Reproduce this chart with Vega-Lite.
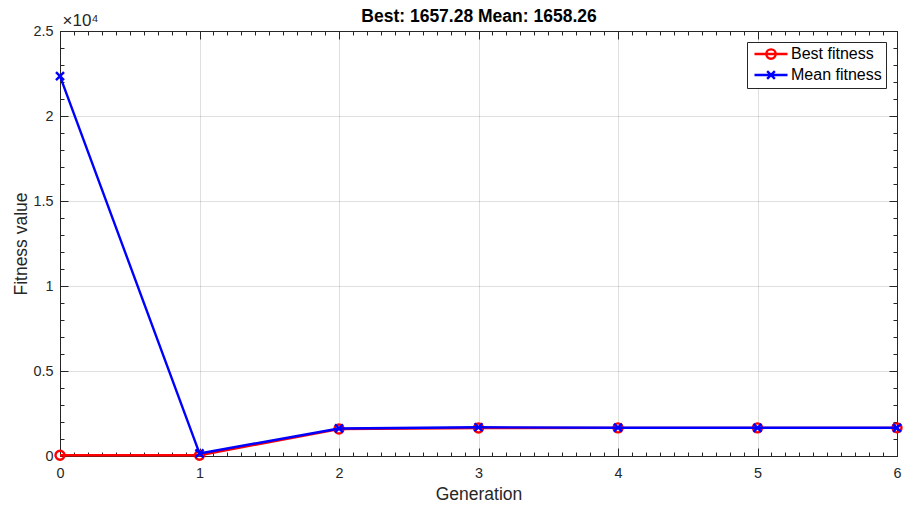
{
  "$schema": "https://vega.github.io/schema/vega-lite/v6.json",
  "width": 837,
  "height": 425,
  "autosize": "none",
  "padding": {"left": 60, "top": 31, "right": 6, "bottom": 53},
  "background": "white",
  "config": {
    "font": "Liberation Sans",
    "view": {"stroke": null},
    "axis": {
      "labelFont": "Liberation Sans",
      "titleFont": "Liberation Sans",
      "labelColor": "#262626",
      "titleColor": "#262626",
      "domainColor": "#262626",
      "domainWidth": 1,
      "tickColor": "#262626",
      "tickWidth": 1,
      "gridColor": "#262626",
      "gridOpacity": 0.15,
      "labelFontSize": 14.4,
      "titleFontSize": 17.5,
      "titleFontWeight": "normal",
      "labelOverlap": false,
      "labelFlush": false
    },
    "legend": {"labelFont": "Liberation Sans"}
  },
  "data": {
    "values": [
      {"generation": 0, "series": "Best fitness", "value": 45},
      {"generation": 1, "series": "Best fitness", "value": 45},
      {"generation": 2, "series": "Best fitness", "value": 1585},
      {"generation": 3, "series": "Best fitness", "value": 1645},
      {"generation": 4, "series": "Best fitness", "value": 1652},
      {"generation": 5, "series": "Best fitness", "value": 1656},
      {"generation": 6, "series": "Best fitness", "value": 1657.28},
      {"generation": 0, "series": "Mean fitness", "value": 22350},
      {"generation": 1, "series": "Mean fitness", "value": 150},
      {"generation": 2, "series": "Mean fitness", "value": 1620},
      {"generation": 3, "series": "Mean fitness", "value": 1690},
      {"generation": 4, "series": "Mean fitness", "value": 1665},
      {"generation": 5, "series": "Mean fitness", "value": 1660},
      {"generation": 6, "series": "Mean fitness", "value": 1658.26}
    ]
  },
  "layer": [
    {
      "transform": [{"filter": "datum.series === 'Best fitness'"}],
      "mark": {"type": "line", "strokeWidth": 2.4, "strokeJoin": "round"},
      "encoding": {
        "x": {
          "field": "generation", "type": "quantitative",
          "scale": {"domain": [0, 6], "nice": false, "zero": false},
          "axis": {
            "orient": "bottom", "values": [0, 1, 2, 3, 4, 5, 6], "format": "d",
            "grid": true, "domain": true, "ticks": true, "tickSize": -8,
            "labelPadding": 18, "labelFlush": false, "title": "Generation", "titlePadding": 6
          }
        },
        "y": {
          "field": "value", "type": "quantitative",
          "scale": {"domain": [0, 25000], "nice": false, "zero": false},
          "axis": {
            "orient": "left", "values": [0, 5000, 10000, 15000, 20000, 25000],
            "labelExpr": "'' + (datum.value / 10000)",
            "grid": true, "domain": true, "ticks": true, "tickSize": -8,
            "labelPadding": 15, "labelFlush": false, "title": "Fitness value", "titlePadding": 2
          }
        },
        "color": {
          "field": "series", "type": "nominal",
          "scale": {"domain": ["Best fitness", "Mean fitness"], "range": ["#ff0000", "#0000ff"]},
          "legend": {
            "title": null,
            "orient": "top-right",
            "offset": 11,
            "padding": 4,
            "strokeColor": "#262626",
            "fillColor": "white",
            "labelFontSize": 16,
            "labelColor": "#000000",
            "symbolSize": 121,
            "symbolOffset": 12,
            "labelOffset": 12,
            "symbolStrokeWidth": 2.4,
            "rowPadding": 2,
            "encode": {
              "symbols": {
                "update": {
                  "shape": {"signal": "datum.value === 'Best fitness' ? 'M-3,0L3,0M0.85,0A0.85,0.85,0,1,1,-0.85,0A0.85,0.85,0,1,1,0.85,0' : 'M-3,0L3,0M-0.7,-0.7L0.7,0.7M-0.7,0.7L0.7,-0.7'"},
                  "fill": {"value": "transparent"},
                  "strokeWidth": {"value": 2.4}
                }
              }
            }
          }
        }
      }
    },
    {
      "transform": [{"filter": "datum.series === 'Best fitness'"}],
      "mark": {"type": "point", "shape": "circle", "filled": false, "stroke": "#ff0000", "strokeWidth": 2.4, "size": 81, "opacity": 1},
      "encoding": {
        "x": {
          "field": "generation", "type": "quantitative",
          "axis": {
            "orient": "bottom",
            "values": [0,0.1,0.2,0.3,0.4,0.5,0.6,0.7,0.8,0.9,1,1.1,1.2,1.3,1.4,1.5,1.6,1.7,1.8,1.9,2,2.1,2.2,2.3,2.4,2.5,2.6,2.7,2.8,2.9,3,3.1,3.2,3.3,3.4,3.5,3.6,3.7,3.8,3.9,4,4.1,4.2,4.3,4.4,4.5,4.6,4.7,4.8,4.9,5,5.1,5.2,5.3,5.4,5.5,5.6,5.7,5.8,5.9,6],
            "labels": false, "grid": false, "domain": false, "ticks": true, "tickSize": -4, "title": null
          }
        },
        "y": {
          "field": "value", "type": "quantitative",
          "axis": {
            "orient": "left",
            "values": [0,1000,2000,3000,4000,5000,6000,7000,8000,9000,10000,11000,12000,13000,14000,15000,16000,17000,18000,19000,20000,21000,22000,23000,24000,25000],
            "labels": false, "grid": false, "domain": false, "ticks": true, "tickSize": -4, "title": null
          }
        }
      }
    },
    {
      "transform": [{"filter": "datum.series === 'Mean fitness'"}],
      "mark": {"type": "line", "strokeWidth": 2.4, "strokeJoin": "round"},
      "encoding": {
        "x": {
          "field": "generation", "type": "quantitative",
          "axis": {
            "orient": "top", "values": [0, 1, 2, 3, 4, 5, 6],
            "labels": false, "grid": false, "domain": true, "ticks": true, "tickSize": -8,
            "title": "×10⁴", "titleAnchor": "start", "titleAlign": "left",
            "titleBaseline": "alphabetic", "titlePadding": 5, "titleFontSize": 17, "titleX": 2
          }
        },
        "y": {
          "field": "value", "type": "quantitative",
          "axis": {
            "orient": "right", "values": [0, 5000, 10000, 15000, 20000, 25000],
            "labels": false, "grid": false, "domain": true, "ticks": true, "tickSize": -8, "title": null
          }
        },
        "color": {"field": "series", "type": "nominal"}
      }
    },
    {
      "transform": [{"filter": "datum.series === 'Mean fitness'"}],
      "mark": {"type": "point", "shape": "M-1,-1L1,1M-1,1L1,-1", "filled": false, "stroke": "#0000ff", "strokeWidth": 2.4, "size": 64, "opacity": 1},
      "encoding": {
        "x": {
          "field": "generation", "type": "quantitative",
          "axis": {
            "orient": "top",
            "values": [0,0.1,0.2,0.3,0.4,0.5,0.6,0.7,0.8,0.9,1,1.1,1.2,1.3,1.4,1.5,1.6,1.7,1.8,1.9,2,2.1,2.2,2.3,2.4,2.5,2.6,2.7,2.8,2.9,3,3.1,3.2,3.3,3.4,3.5,3.6,3.7,3.8,3.9,4,4.1,4.2,4.3,4.4,4.5,4.6,4.7,4.8,4.9,5,5.1,5.2,5.3,5.4,5.5,5.6,5.7,5.8,5.9,6],
            "labels": false, "grid": false, "domain": false, "ticks": true, "tickSize": -4,
            "title": "Best: 1657.28 Mean: 1658.26", "titleFontWeight": "bold", "titleFontSize": 17.5,
            "titleColor": "#000000", "titleAnchor": "middle", "titleBaseline": "alphabetic", "titlePadding": 9
          }
        },
        "y": {
          "field": "value", "type": "quantitative",
          "axis": {
            "orient": "right",
            "values": [0,1000,2000,3000,4000,5000,6000,7000,8000,9000,10000,11000,12000,13000,14000,15000,16000,17000,18000,19000,20000,21000,22000,23000,24000,25000],
            "labels": false, "grid": false, "domain": false, "ticks": true, "tickSize": -4, "title": null
          }
        }
      }
    }
  ],
  "resolve": {"axis": {"x": "independent", "y": "independent"}}
}
